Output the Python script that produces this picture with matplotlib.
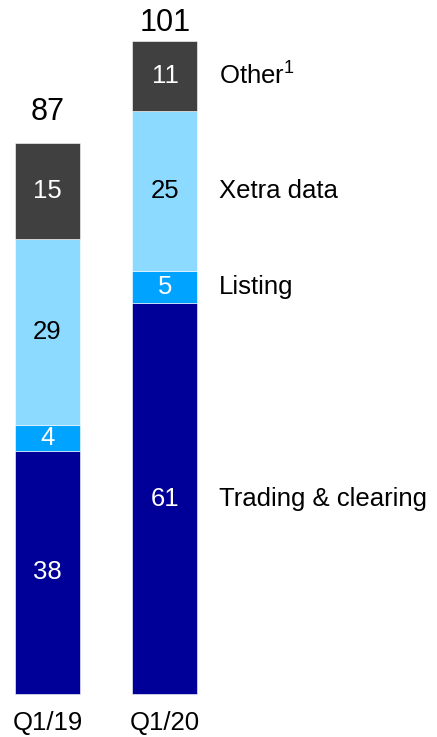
import numpy as np
import matplotlib.pyplot as plt

plt.rcParams['font.family'] = ['Liberation Sans', 'DejaVu Sans']
plt.rcParams['mathtext.fontset'] = 'custom'
plt.rcParams['mathtext.rm'] = 'Liberation Sans'

quarters = ['Q1/19', 'Q1/20']
segments = ['Trading & clearing', 'Listing', 'Xetra data', 'Other$\\mathrm{^1}$']
trading = [38, 61]
listing = [4, 5]
xetra = [29, 25]
other = [15, 11]
totals = [87, 101]

colors = ['#000099', '#00A3FF', '#8CDAFF', '#404040']
text_colors = ['white', 'white', 'black', 'white']

fig = plt.figure(figsize=(4.37, 7.37), dpi=100)
ax = fig.add_axes([0, 0, 1, 1])

x = np.arange(len(quarters))
width = 0.553
bottom = np.zeros(len(quarters))
for vals, col, tcol, name in zip([trading, listing, xetra, other], colors, text_colors, segments):
    vals = np.array(vals)
    ax.bar(x, vals, width, bottom=bottom, color=col, edgecolor='white', linewidth=0.4)
    for xi, b, v in zip(x, bottom, vals):
        ax.text(xi, b + v / 2, str(v), ha='center', va='center', color=tcol, fontsize=18.5)
    # series label to the right of the last bar
    ax.text(1.46, bottom[-1] + vals[-1] / 2, name, ha='left', va='center', fontsize=18.5)
    bottom = bottom + vals

for xi, t in zip(x, totals):
    ax.annotate(str(t), (xi, t), xytext=(0, 7), textcoords='offset points',
                ha='center', va='bottom', fontsize=22)

for xi, q in zip(x, quarters):
    ax.annotate(q, (xi, 0), xytext=(0, -21), textcoords='offset points',
                ha='center', va='center', fontsize=18.5)

ax.set_xlim(-0.404, 3.315)
ax.set_ylim(-6.72, 108.4)
ax.axis('off')

fig.savefig('out.png', dpi=100)
